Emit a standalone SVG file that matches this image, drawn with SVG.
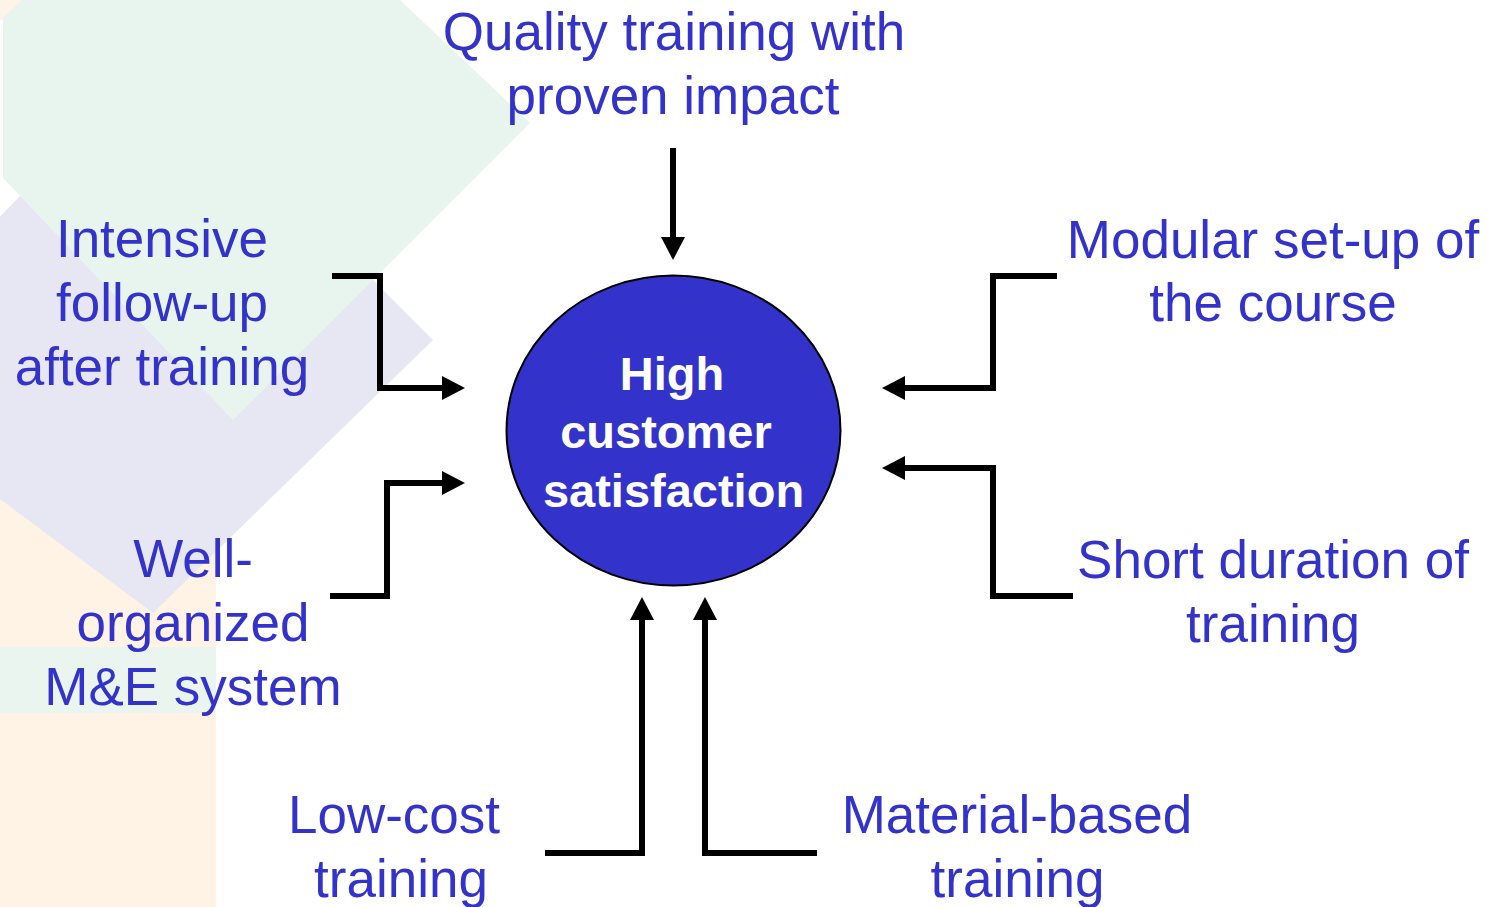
<svg xmlns="http://www.w3.org/2000/svg" width="1499" height="907" viewBox="0 0 1499 907">
  <defs>
    <marker id="arrow" markerUnits="userSpaceOnUse" markerWidth="24" markerHeight="26" refX="0" refY="12" orient="auto" viewBox="0 0 24 26">
      <path d="M0,0 L23,12 L0,24 Z" fill="#000"/>
    </marker>
    <style>
      .lbl { font-family: "Liberation Sans", Arial, sans-serif; font-size: 53px; fill: #3333CC; text-anchor: middle; }
      .ctr { font-family: "Liberation Sans", Arial, sans-serif; font-size: 47px; font-weight: bold; fill: #FFFFFF; text-anchor: middle; }
      .conn { fill: none; stroke: #000; stroke-width: 6; stroke-linejoin: miter; marker-end: url(#arrow); }
    </style>
  </defs>

  <rect x="0" y="0" width="1499" height="907" fill="#FFFFFF"/>
  <g id="background">
    <rect x="0" y="0" width="30" height="20" fill="#FDF3E6"/>
    <rect x="0" y="400" width="216" height="507" fill="#FEF3E5"/>
    <rect x="0" y="647" width="216" height="66" fill="#EAF5EF"/>
    <polygon points="153,60 433,340 153,613 -160,380" fill="#E7E7F4"/>
    <polygon points="3,18 22,0 400,0 530,123 233,420 3,178" fill="#E8F5EF"/>
  </g>

  <g id="connectors">
    <path class="conn" d="M673,148 V237"/>
    <path class="conn" d="M332,276 H380 V388 H442"/>
    <path class="conn" d="M330,596 H387 V483 H442"/>
    <path class="conn" d="M1057,276 H993 V388 H905"/>
    <path class="conn" d="M1073,596 H993 V468 H905"/>
    <path class="conn" d="M545,853 H642 V620"/>
    <path class="conn" d="M817,853 H705 V620"/>
  </g>

  <g id="node-center">
    <ellipse cx="673.5" cy="430.5" rx="167" ry="155" fill="#3333CC" stroke="#000" stroke-width="2"/>
    <text class="ctr" x="672" y="390">High</text>
    <text class="ctr" x="666" y="448">customer</text>
    <text class="ctr" x="673.5" y="507">satisfaction</text>
  </g>

  <g id="node-quality">
    <text class="lbl" x="674" y="50">Quality training with</text>
    <text class="lbl" x="673" y="114">proven impact</text>
  </g>

  <g id="node-followup">
    <text class="lbl" x="162" y="257">Intensive</text>
    <text class="lbl" x="162" y="321">follow-up</text>
    <text class="lbl" x="162" y="385">after training</text>
  </g>

  <g id="node-me">
    <text class="lbl" x="193" y="577">Well-</text>
    <text class="lbl" x="193" y="641">organized</text>
    <text class="lbl" x="193" y="705">M&amp;E system</text>
  </g>

  <g id="node-lowcost">
    <text class="lbl" x="394" y="833">Low-cost</text>
    <text class="lbl" x="401" y="897">training</text>
  </g>

  <g id="node-material">
    <text class="lbl" x="1017" y="833">Material-based</text>
    <text class="lbl" x="1017.5" y="897">training</text>
  </g>

  <g id="node-modular">
    <text class="lbl" x="1273" y="258">Modular set-up of</text>
    <text class="lbl" x="1273" y="321">the course</text>
  </g>

  <g id="node-short">
    <text class="lbl" x="1273" y="578">Short duration of</text>
    <text class="lbl" x="1273" y="642">training</text>
  </g>
</svg>
